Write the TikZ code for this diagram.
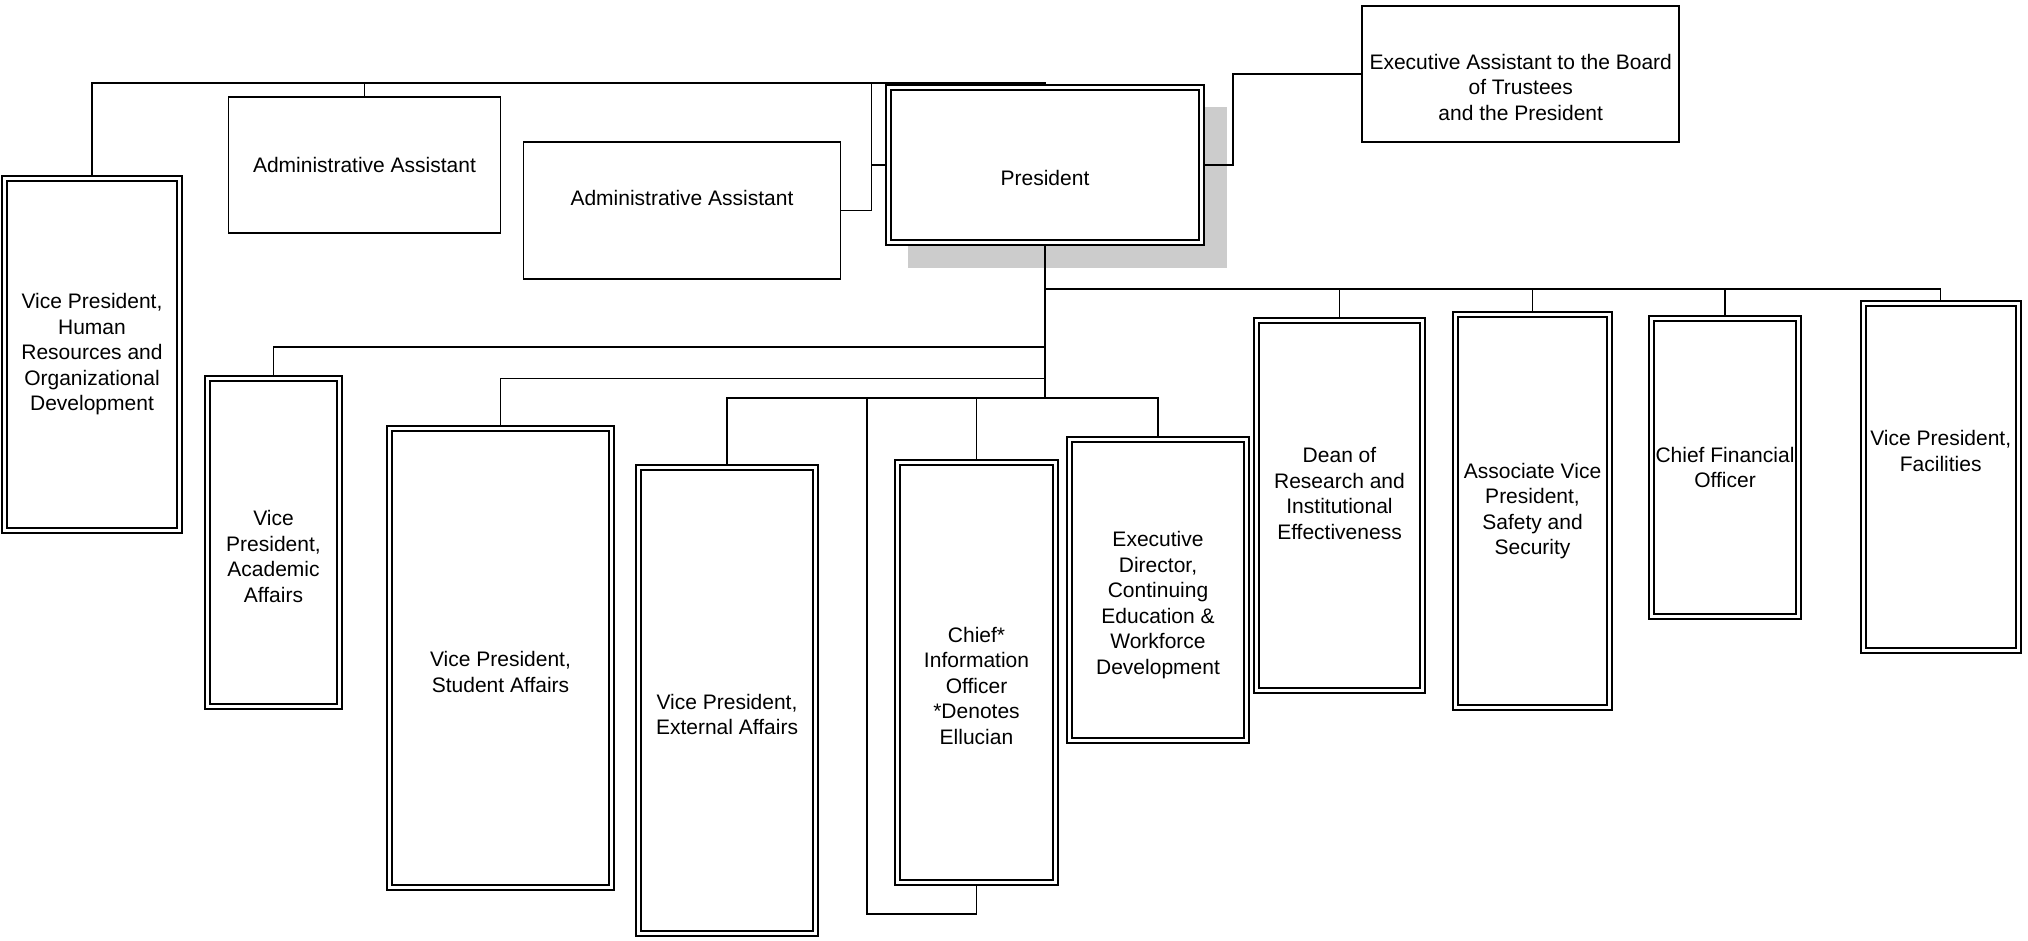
\documentclass[tikz,border=0pt]{standalone}
\usepackage{fontspec}
\setmainfont{Liberation Sans}
\tikzset{
  box/.style={draw, fill=white, align=center, inner sep=2pt},
  dbox/.style={box, double, double distance=3.4pt, outer sep=3.3pt},
  lbl/.style={align=center, inner sep=0pt},
  link/.style={line width=1.4pt}
}

\begin{document}
\begin{tikzpicture}[x=1pt, y=-1pt, line width=1.6pt, font=\fontsize{21}{25.5}\selectfont]
  \useasboundingbox (0,0) rectangle (2028,940);

  % ombre du president
  \fill[black!20] (908,107) rectangle (1227,268);

  % president et assistants
  \node[dbox, minimum width=313pt, minimum height=155pt,
    label={[lbl, yshift=-13pt]center:President}] (pres) at (1045,165) {};
  \node[box, minimum width=317pt, minimum height=136pt,
    label={[lbl, yshift=-13pt]center:{Executive Assistant to the Board\\of Trustees\\and the President}}] (exec) at (1520.7,74) {};
  \node[box, minimum width=272pt, minimum height=136pt] (aa1) at (364.5,165) {Administrative Assistant};
  \node[box, minimum width=317pt, minimum height=137pt,
    label={[lbl, yshift=12pt]center:Administrative Assistant}] (aa2) at (682,210.4) {};

  % vice-presidents a gauche
  \node[dbox, minimum width=175pt, minimum height=352pt] (vphr) at (92,354.5)
    {Vice President,\\Human\\Resources and\\Organizational\\Development};
  \node[dbox, minimum width=132pt, minimum height=328pt,
    label={[lbl, yshift=-14pt]center:{Vice\\President,\\Academic\\Affairs}}] (vpaa) at (273.5,542.5) {};
  \node[dbox, minimum width=222pt, minimum height=459pt,
    label={[lbl, yshift=-14pt]center:{Vice President,\\Student Affairs}}] (vpsa) at (500.5,658.2) {};
  \node[dbox, minimum width=177pt, minimum height=466pt,
    label={[lbl, yshift=-14pt]center:{Vice President,\\External Affairs}}] (vpea) at (727,700.5) {};
  \node[dbox, minimum width=158pt, minimum height=420pt,
    label={[lbl, yshift=-13pt]center:{Chief*\\Information\\Officer\\*Denotes\\Ellucian}}] (cio) at (976.5,672.5) {};
  \node[dbox, minimum width=177pt, minimum height=301pt,
    label={[lbl, yshift=-15pt]center:{Executive\\Director,\\Continuing\\Education \&\\Workforce\\Development}}] (exdir) at (1158,590) {};

  % groupe de droite
  \node[dbox, minimum width=166pt, minimum height=370pt,
    label={[lbl, yshift=12pt]center:{Dean of\\Research and\\Institutional\\Effectiveness}}] (dean) at (1339.5,505.5) {};
  \node[dbox, minimum width=154pt, minimum height=393pt] (assoc) at (1532.5,511)
    {Associate Vice\\President,\\Safety and\\Security};
  \node[dbox, minimum width=147pt, minimum height=298pt] (cfo) at (1725,467.5)
    {Chief Financial\\Officer};
  \node[dbox, minimum width=155pt, minimum height=347pt,
    label={[lbl, yshift=26pt]center:{Vice President,\\Facilities}}] (fac) at (1940.7,477) {};

  % points du tronc
  \coordinate (top) at (1045,83);
  \coordinate (ab) at (871.5,83);
  \coordinate (t1) at (1045,289);
  \coordinate (ta) at (1045,347);
  \coordinate (ts) at (1045,378.5);
  \coordinate (t3) at (1045,398);
  \coordinate (lp) at (867,398);

  % liaisons du haut
  \draw[link] (pres.north) -- (top) -| (vphr.north);
  \draw[link] (aa1.north) -- (aa1.north |- top);
  \draw[link] (aa2.east) -| (ab);
  \draw[link] (pres.west) -- (pres.west -| ab);
  \draw[link] (pres.east) -- ++(28,0) |- (exec.west);

  % tronc
  \draw[link] (pres.south) -- (t3);
  \draw[link] (ta) -| (vpaa.north);
  \draw[link] (ts) -| (vpsa.north);
  \draw[link] (vpea.north) |- (t3) -| (exdir.north);
  \draw[link] (cio.north) -- (cio.north |- t3);
  \draw[link] (cio.south) -- ++(0,28) -| (lp);

  % barre de droite
  \draw[link] (t1) -| (fac.north);
  \draw[link] (dean.north) -- (dean.north |- t1);
  \draw[link] (assoc.north) -- (assoc.north |- t1);
  \draw[link] (cfo.north) -- (cfo.north |- t1);
\end{tikzpicture}
\end{document}
